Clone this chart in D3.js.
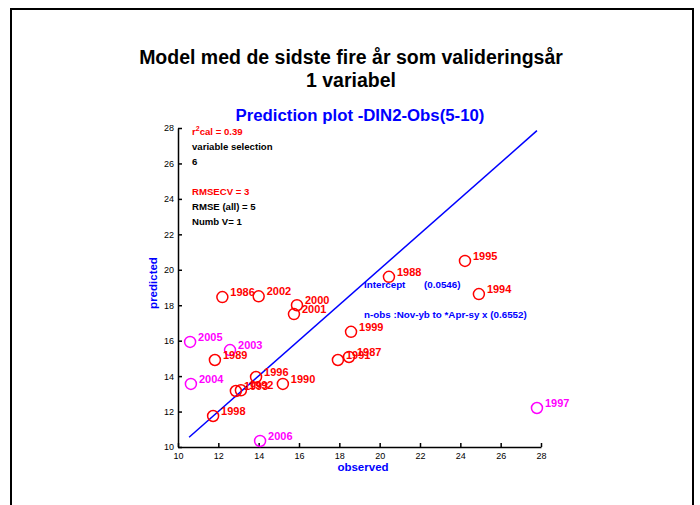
<!DOCTYPE html>
<html>
<head>
<meta charset="utf-8">
<script src="https://cdn.jsdelivr.net/npm/d3@7"></script>
<style>
  body { margin: 0; background: #fff; }
  text { font-family: Arial, "Liberation Sans", sans-serif; }
</style>
</head>
<body>
<div id="chart"></div>
<script>
// Prediction plot data (observed vs predicted)
var years     = [1986, 1987, 1988, 1989, 1990, 1991, 1992, 1993, 1994, 1995, 1996, 1997, 1998, 1999, 2000, 2001, 2002, 2003, 2004, 2005, 2006];
var observed  = [12.2, 18.48, 20.46, 11.83, 15.2, 17.93, 13.12, 12.87, 24.92, 24.23, 13.87, 27.8, 11.74, 18.58, 15.9, 15.75, 14.0, 12.58, 10.64, 10.6, 14.07];
var predicted = [18.46, 15.08, 19.6, 14.91, 13.56, 14.91, 13.2, 13.16, 18.63, 20.5, 13.95, 12.2, 11.75, 16.5, 18.0, 17.5, 18.5, 15.47, 13.56, 15.93, 10.34];
// validation years drawn in magenta
var validation = [1997, 2003, 2004, 2005, 2006];

var xTicks = [10, 12, 14, 16, 18, 20, 22, 24, 26, 28];
var yTicks = [10, 12, 14, 16, 18, 20, 22, 24, 26, 28];

var statsLines = [
    {text: "cal = 0.39", color: "red", sup: true},
    {text: "variable selection", color: "black"},
    {text: "6", color: "black"},
    {text: "", color: "black"},
    {text: "RMSECV = 3", color: "red"},
    {text: "RMSE (all) = 5", color: "black"},
    {text: "Numb V= 1", color: "black"}
];

var svgWidth = 700;
var svgHeight = 505;

var chartMargin = {top: 128, left: 178};
var chartWidth = 363;
var chartHeight = 319;

var svg = d3.select("#chart")
    .append("svg")
    .attr("width", svgWidth)
    .attr("height", svgHeight);

// slide frame
svg.append("rect")
    .attr("x", 11)
    .attr("y", 9)
    .attr("width", 682)
    .attr("height", 520)
    .attr("fill", "none")
    .attr("stroke", "black")
    .attr("stroke-width", 2);

// titles
svg.append("text")
    .attr("x", 351).attr("y", 64)
    .attr("text-anchor", "middle")
    .style("font-size", "19.5px").style("font-weight", "bold")
    .text("Model med de sidste fire år som valideringsår");
svg.append("text")
    .attr("x", 351).attr("y", 87)
    .attr("text-anchor", "middle")
    .style("font-size", "19.5px").style("font-weight", "bold")
    .text("1 variabel");

svg.append("text")
    .attr("x", 360).attr("y", 121)
    .attr("text-anchor", "middle")
    .attr("fill", "blue")
    .style("font-size", "16.8px").style("font-weight", "bold")
    .text("Prediction plot -DIN2-Obs(5-10)");

var chartGroup = svg.append("g")
    .attr("transform", `translate(${chartMargin.left}, ${chartMargin.top})`);

var xScale = d3.scaleLinear()
    .domain([10, 28])
    .range([0, chartWidth]);

var yScale = d3.scaleLinear()
    .domain([10, 28])
    .range([chartHeight, 0]);

var xAxis = d3.axisBottom(xScale).tickValues(xTicks).tickSizeInner(-4).tickSizeOuter(0).tickPadding(6);
var yAxis = d3.axisLeft(yScale).tickValues(yTicks).tickSizeInner(-4).tickSizeOuter(0).tickPadding(6);

var gx = chartGroup.append("g")
    .attr("transform", `translate(0, ${chartHeight})`)
    .call(xAxis);
var gy = chartGroup.append("g")
    .call(yAxis);

[gx, gy].forEach(function(g) {
    g.select(".domain").attr("stroke-width", 1.5);
    g.selectAll(".tick line").attr("stroke-width", 1.5);
    g.selectAll(".tick text")
        .style("font-size", "9px")
        .style("font-family", "Arial, 'Liberation Sans', sans-serif");
});
gy.selectAll(".tick text").attr("x", -4);

// axis labels
svg.append("text")
    .attr("x", 363).attr("y", 471)
    .attr("text-anchor", "middle")
    .attr("fill", "blue")
    .style("font-size", "11.5px").style("font-weight", "bold")
    .text("observed");
svg.append("text")
    .attr("transform", "translate(157, 283) rotate(-90)")
    .attr("text-anchor", "middle")
    .attr("fill", "blue")
    .style("font-size", "11.5px").style("font-weight", "bold")
    .text("predicted");

// 1:1 line over the data range
var lo = d3.min(observed.concat(predicted));
var hi = d3.max(observed.concat(predicted));
var dLo = Math.max(lo, 10.55);
chartGroup.append("line")
    .attr("x1", xScale(dLo)).attr("y1", yScale(dLo))
    .attr("x2", xScale(hi)).attr("y2", yScale(hi + 0.05))
    .attr("stroke", "blue")
    .attr("stroke-width", 1.5);

var data = years.map(function(y, i) {
    return {year: y, obs: observed[i], pred: predicted[i],
            color: validation.indexOf(y) >= 0 ? "#ff00ff" : "#ff0000"};
});

chartGroup.selectAll("circle")
    .data(data)
    .enter()
    .append("circle")
    .attr("cx", d => xScale(d.obs))
    .attr("cy", d => yScale(d.pred))
    .attr("r", 5.5)
    .attr("fill", "none")
    .attr("stroke", d => d.color)
    .attr("stroke-width", 1.5);

chartGroup.selectAll(".lbl")
    .data(data)
    .enter()
    .append("text")
    .attr("class", "lbl")
    .attr("x", d => xScale(d.obs) + 8)
    .attr("y", d => yScale(d.pred) - 1)
    .attr("fill", d => d.color)
    .style("font-size", "11px").style("font-weight", "bold")
    .text(d => d.year);

// stats text in the upper left
var stats = svg.append("g");
statsLines.forEach(function(s, i) {
    var t = stats.append("text")
        .attr("x", 192).attr("y", 135 + i * 15)
        .attr("fill", s.color)
        .style("font-size", "9.6px").style("font-weight", "bold");
    if (s.sup) {
        t.append("tspan").text("r");
        t.append("tspan").attr("dy", -4).style("font-size", "7px").text("2");
        t.append("tspan").attr("dy", 4).text(s.text);
    } else {
        t.text(s.text);
    }
});

// regression annotations
svg.append("text")
    .attr("x", 364).attr("y", 288)
    .attr("fill", "blue")
    .style("font-size", "9.8px").style("font-weight", "bold")
    .text("Intercept");
svg.append("text")
    .attr("x", 424).attr("y", 288)
    .attr("fill", "blue")
    .style("font-size", "9.8px").style("font-weight", "bold")
    .text("(0.0546)");
svg.append("text")
    .attr("x", 364).attr("y", 318)
    .attr("fill", "blue")
    .style("font-size", "9.8px").style("font-weight", "bold")
    .text("n-obs :Nov-yb to *Apr-sy x (0.6552)");
</script>
</body>
</html>
